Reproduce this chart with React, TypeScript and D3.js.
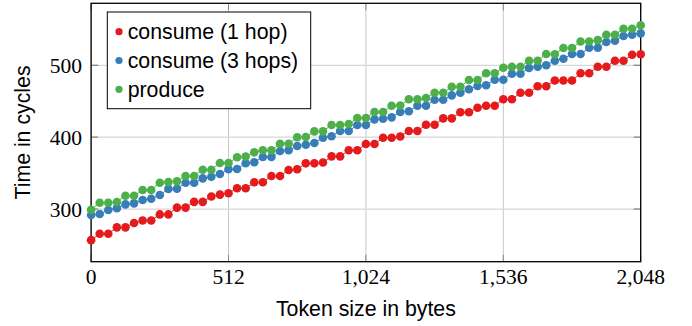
import React from "react";
import * as d3 from "d3";

const xTicks = [0, 512, 1024, 1536, 2048];
const xTickLabels = ["0", "512", "1,024", "1,536", "2,048"];
const yTicks = [300, 400, 500];
const stepBytes = 32;

const consume1 = [
  256.7, 265.5, 265.5, 274.5, 274.5, 280.5, 284.0, 284.0, 292.5, 292.5,
  302.0, 302.0, 310.0, 310.0, 317.5, 320.0, 322.0, 329.0, 329.0, 337.2,
  337.2, 345.9, 345.9, 354.3, 355.3, 363.6, 363.6, 364.7, 373.3, 373.3,
  381.7, 381.7, 390.5, 390.5, 399.2, 399.2, 401.0, 408.6, 408.6, 417.3,
  417.3, 426.2, 426.2, 434.6, 434.6, 441.0, 443.8, 443.8, 452.7, 452.7,
  461.9, 461.9, 470.8, 470.8, 478.8, 478.8, 478.8, 488.9, 488.9, 498.1,
  498.1, 506.4, 506.4, 514.8, 515.5,
];
const consume3 = [
  291.6, 293.0, 298.6, 301.0, 306.5, 307.9, 312.5, 314.3, 319.5, 328.0,
  328.3, 336.6, 336.6, 342.7, 345.0, 348.7, 355.3, 355.7, 363.8, 365.0,
  372.4, 372.4, 380.7, 381.7, 387.7, 389.5, 391.9, 399.3, 401.2, 408.6,
  408.6, 416.9, 416.9, 424.8, 425.7, 427.6, 435.0, 436.0, 443.8, 443.8,
  452.1, 452.1, 458.2, 461.9, 466.6, 471.2, 472.2, 480.0, 480.0, 488.3,
  488.3, 496.2, 498.1, 500.0, 506.4, 509.2, 515.7, 515.7, 524.5, 524.5,
  532.4, 534.2, 540.8, 542.6, 544.5,
];
const produce = [
  299.0, 308.8, 308.8, 309.7, 318.5, 318.5, 326.4, 326.4, 336.6, 337.5,
  338.6, 345.9, 345.9, 354.7, 354.7, 364.0, 364.0, 372.0, 373.0, 378.9,
  381.7, 381.7, 390.9, 390.9, 399.8, 400.2, 408.1, 408.1, 416.9, 416.9,
  418.3, 426.7, 426.7, 435.0, 435.0, 443.8, 444.0, 452.7, 452.7, 454.5,
  461.9, 461.9, 470.2, 470.2, 479.5, 479.5, 488.9, 488.9, 496.7, 498.1,
  498.1, 506.4, 506.4, 515.7, 515.5, 524.0, 524.0, 533.2, 533.2, 535.0,
  542.6, 542.6, 550.9, 550.9, 555.7,
];

const seriesNames = ["consume (1 hop)", "consume (3 hops)", "produce"];
const seriesColors = ["#e41a1c", "#377eb8", "#4daf4a"];
const seriesData = [consume1, consume3, produce];

export default function App() {
  const W = 692;
  const H = 326;
  const x = d3.scaleLinear().domain([0, 2048]).range([91.1, 640.7]);
  const y = d3.scaleLinear().domain([226.7, 586.3]).range([261.7, 3.3]);
  const [x0, x1] = x.range();
  const [yb, yt] = y.range();
  const line = d3
    .line<number>()
    .x((_, i) => x(i * stepBytes))
    .y((v) => y(v));
  const sans = "'Liberation Sans', Arial, sans-serif";
  const serif = "'Liberation Serif', 'Times New Roman', serif";
  const tickLen = 7;
  const fs = 21.3;

  return (
    <svg
      width={W}
      height={H}
      style={{ position: "absolute", left: 0, top: 0, background: "#fff" }}
    >
      <rect x={0} y={0} width={W} height={H} fill="#fff" />
      {/* grid */}
      {xTicks.map((t) => (
        <line key={"gx" + t} x1={x(t)} x2={x(t)} y1={yt} y2={yb} stroke="#c8c8c8" strokeWidth={1} />
      ))}
      {yTicks.map((t) => (
        <line key={"gy" + t} x1={x0} x2={x1} y1={y(t)} y2={y(t)} stroke="#d6d6d6" strokeWidth={1.3} />
      ))}
      {/* tick marks */}
      {xTicks.map((t) => (
        <g key={"tx" + t}>
          <line x1={x(t)} x2={x(t)} y1={yb} y2={yb - tickLen} stroke="#888" strokeWidth={1} />
          <line x1={x(t)} x2={x(t)} y1={yt} y2={yt + tickLen} stroke="#888" strokeWidth={1} />
        </g>
      ))}
      {yTicks.map((t) => (
        <g key={"ty" + t}>
          <line x1={x0} x2={x0 + tickLen} y1={y(t)} y2={y(t)} stroke="#888" strokeWidth={1.3} />
          <line x1={x1} x2={x1 - tickLen} y1={y(t)} y2={y(t)} stroke="#888" strokeWidth={1.3} />
        </g>
      ))}
      {/* frame */}
      <rect x={x0} y={yt} width={x1 - x0} height={yb - yt} fill="none" stroke="#000" strokeWidth={1.3} />
      {/* series */}
      {seriesData.map((data, si) => (
        <g key={"s" + si}>
          <path d={line(data) || ""} fill="none" stroke={seriesColors[si]} strokeWidth={1} />
          {data.map((v, i) => (
            <circle key={i} cx={x(i * stepBytes)} cy={y(v)} r={4.3} fill={seriesColors[si]} />
          ))}
        </g>
      ))}
      {/* tick labels */}
      {xTicks.map((t, i) => (
        <text key={"lx" + t} x={x(t)} y={284} textAnchor="middle" fontFamily={serif} fontSize={21.5} fill="#000">
          {xTickLabels[i]}
        </text>
      ))}
      {yTicks.map((t) => (
        <text key={"ly" + t} x={82} y={y(t)} dy="0.35em" textAnchor="end" fontFamily={serif} fontSize={21.5} fill="#000">
          {t}
        </text>
      ))}
      {/* axis labels */}
      <text x={(x0 + x1) / 2} y={316} textAnchor="middle" fontFamily={sans} fontSize={fs} fill="#000">
        Token size in bytes
      </text>
      <text
        transform={`translate(30, ${(yt + yb) / 2}) rotate(-90)`}
        textAnchor="middle"
        fontFamily={sans}
        fontSize={fs}
        fill="#000"
      >
        Time in cycles
      </text>
      {/* legend */}
      <rect x={107.3} y={12} width={203.4} height={96.7} fill="#fff" stroke="#000" strokeWidth={1} />
      {seriesNames.map((n, i) => (
        <g key={"lg" + i}>
          <circle cx={119} cy={31.7 + i * 28.8} r={3.6} fill={seriesColors[i]} />
          <text x={127.7} y={31.7 + i * 28.8} dy="0.35em" fontFamily={sans} fontSize={fs} fill="#000">
            {n}
          </text>
        </g>
      ))}
    </svg>
  );
}
